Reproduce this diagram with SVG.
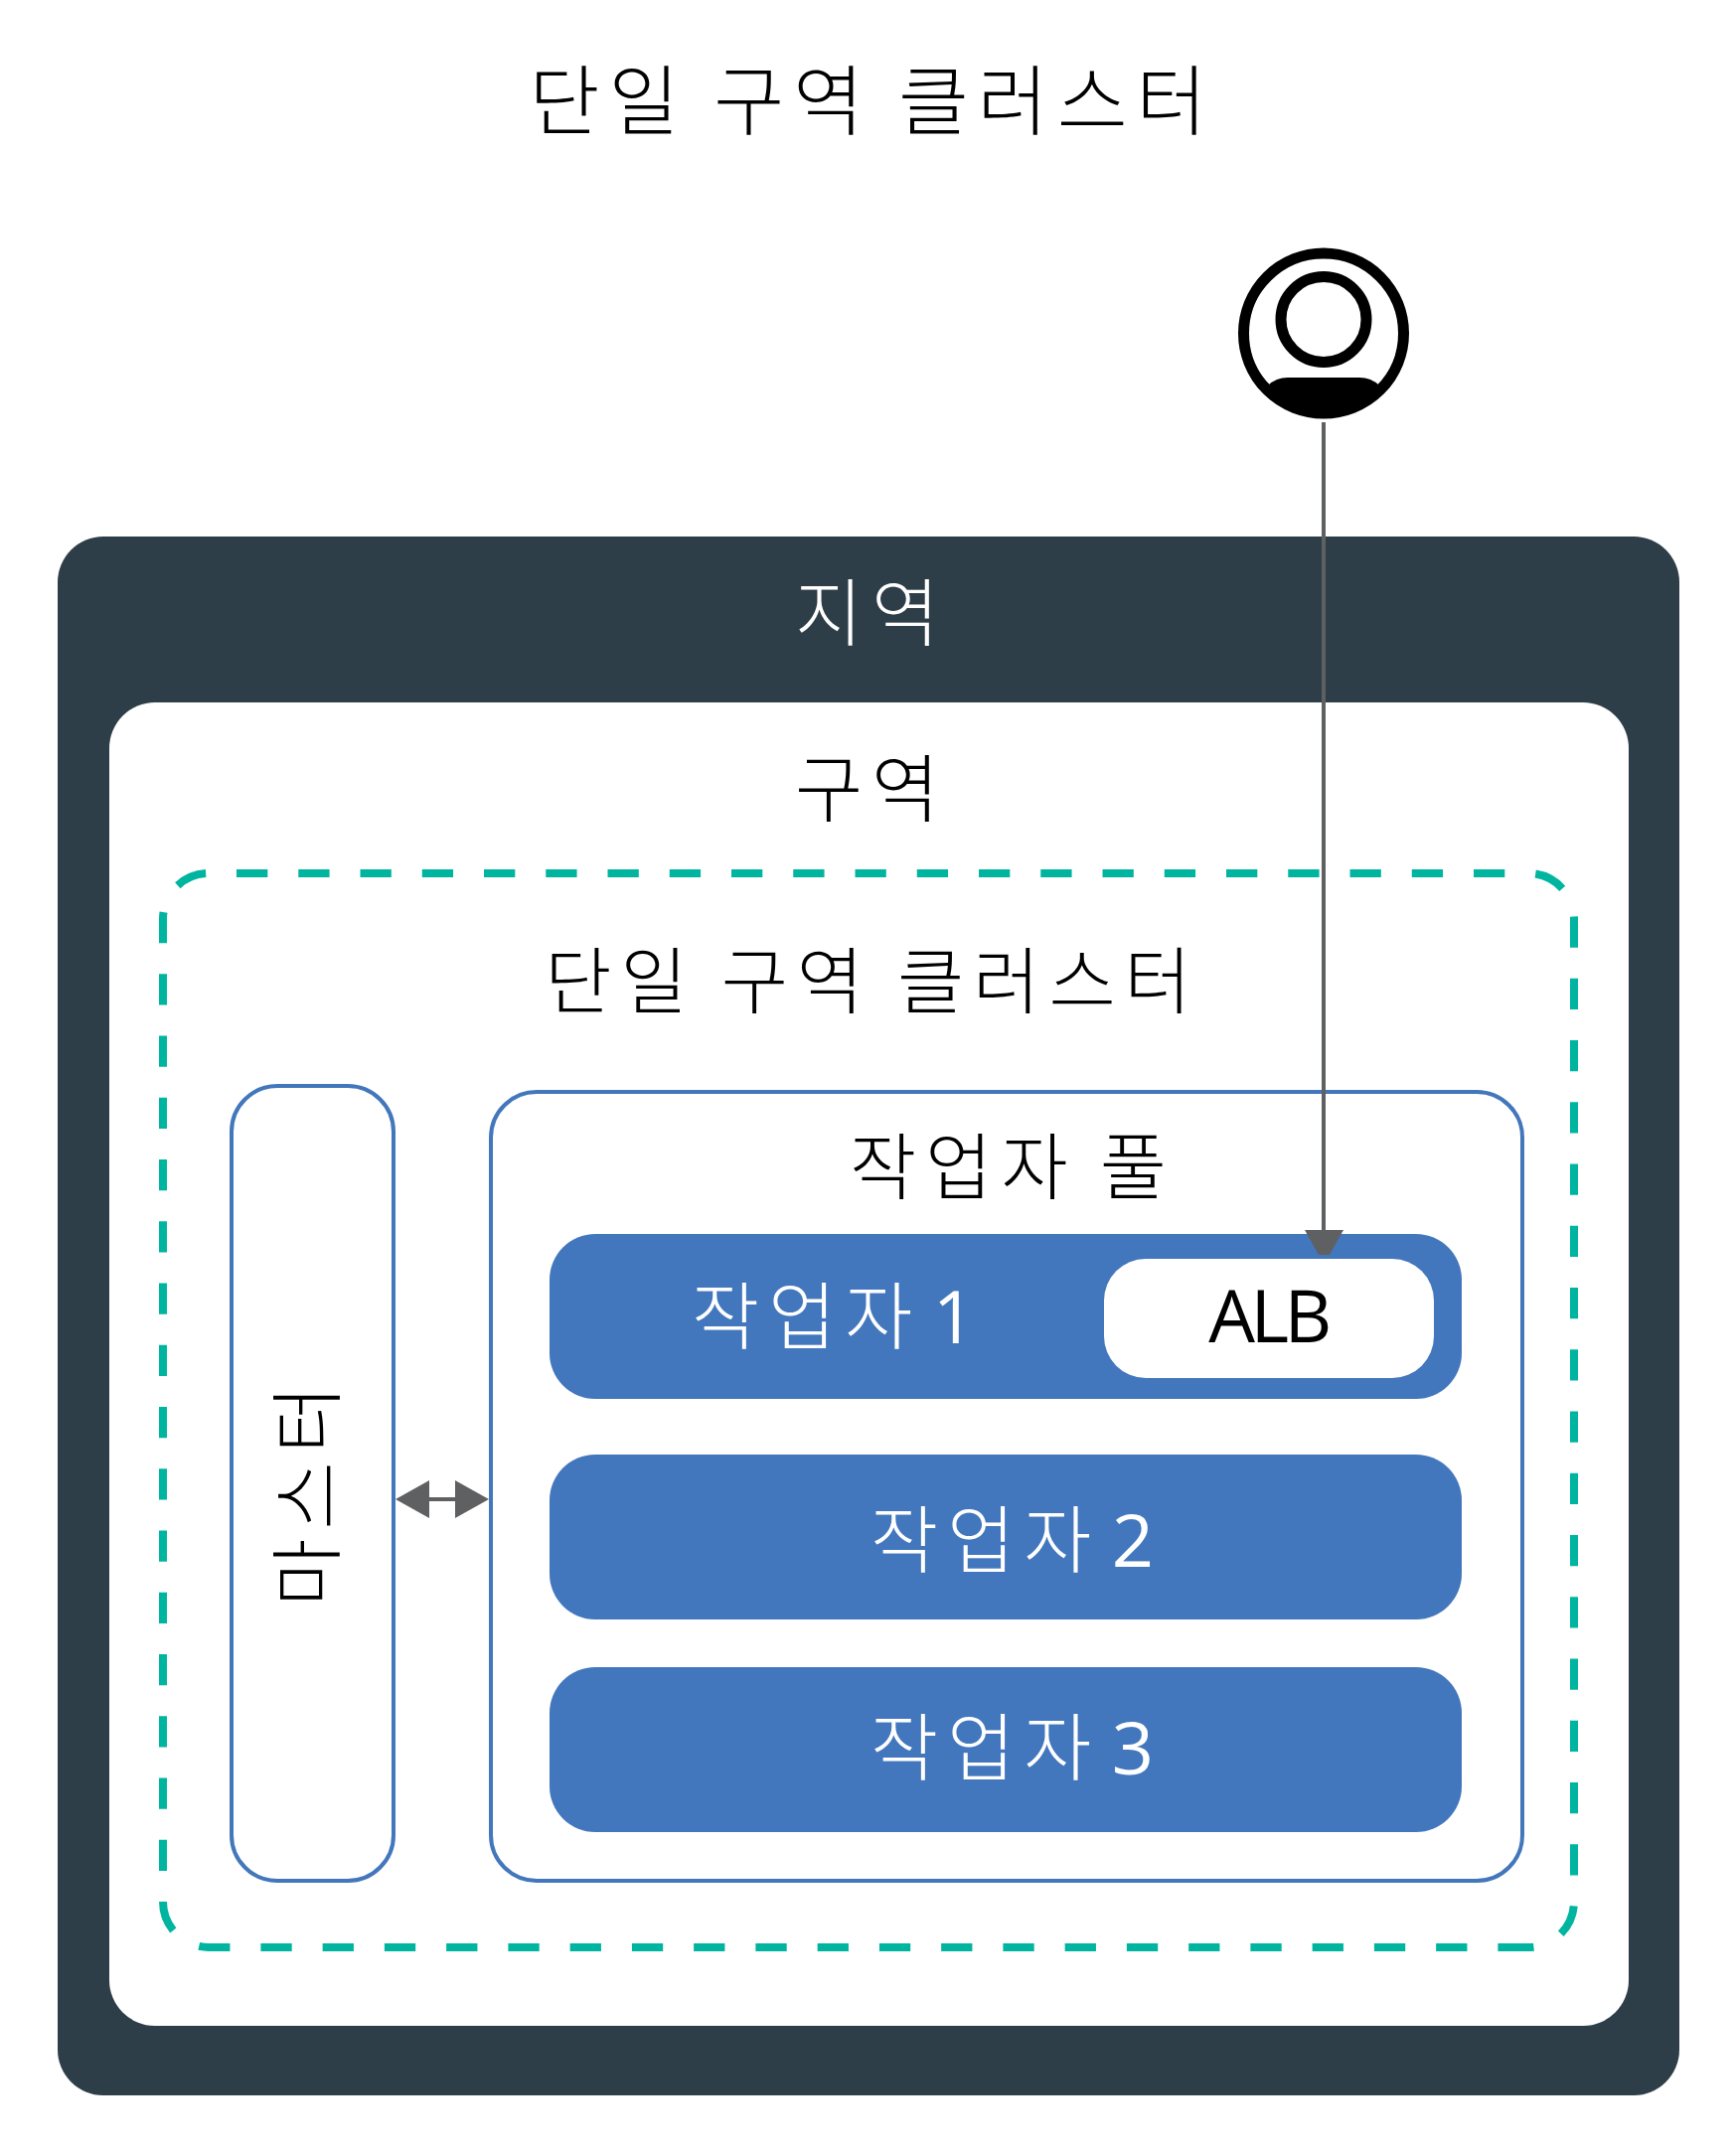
<svg xmlns="http://www.w3.org/2000/svg" width="1747" height="2167" viewBox="0 0 1747 2167">
<style>
text{font-family:"Noto Sans CJK KR","Open Sans",sans-serif;font-weight:300;text-anchor:middle;fill:#000}
.w{fill:#fff}
.lat{font-family:"Open Sans","Noto Sans CJK KR",sans-serif;font-weight:400}
.box{fill:#fff;stroke:#4377bc;stroke-width:4}
.wk{fill:#4377bd}
.con{fill:#5f6062}
.ln{stroke:#5f6062;stroke-width:4;fill:none}
</style>
<rect width="1747" height="2167" fill="#fff"/>
<text x="878" y="130" font-size="77" letter-spacing="9">단일 구역 클러스터</text>
<g id="region"><rect x="58" y="540" width="1632" height="1569" rx="46" fill="#2e3e49"/><text class="w" x="877" y="644" font-size="74" letter-spacing="9">지역</text></g>
<g id="zone"><rect x="110" y="707" width="1529" height="1332" rx="46" fill="#fff"/><text x="877" y="821" font-size="74" letter-spacing="9">구역</text></g>
<g id="cluster"><path d="M1538 1960H210A46 46 0 0 1 164 1914V925A46 46 0 0 1 210 879H1538A46 46 0 0 1 1584 925V1914A46 46 0 0 1 1538 1960Z" fill="none" stroke="#00b5a0" stroke-width="8" stroke-dasharray="31.3 30.95" stroke-dashoffset="0.7"/><text x="878" y="1014" font-size="73" letter-spacing="9">단일 구역 클러스터</text></g>
<g id="master"><rect class="box" x="233" y="1093" width="163" height="800" rx="46"/><text transform="translate(336 1501) rotate(-90)" font-size="74" letter-spacing="9">마스터</text></g>
<g id="pool"><rect class="box" x="494" y="1099" width="1038" height="794" rx="46"/><text x="1019" y="1201" font-size="73" letter-spacing="9" word-spacing="-2">작업자 풀</text></g>
<g id="worker1"><rect class="wk" x="553" y="1242" width="918" height="166" rx="46"/><text class="w" x="843" y="1352" font-size="74" letter-spacing="9" word-spacing="-14">작업자 <tspan class="lat">1</tspan></text></g>
<g id="alb"><rect x="1111" y="1267" width="332" height="120" rx="42" fill="#fff"/><text class="lat" x="1276" y="1351" font-size="74" letter-spacing="-4.5">ALB</text></g>
<g id="worker2"><rect class="wk" x="553" y="1464" width="918" height="166" rx="46"/><text class="w" x="1023" y="1577" font-size="74" letter-spacing="9" word-spacing="-14">작업자 <tspan class="lat">2</tspan></text></g>
<g id="worker3"><rect class="wk" x="553" y="1678" width="918" height="166" rx="46"/><text class="w" x="1023" y="1786" font-size="74" letter-spacing="9" word-spacing="-14">작업자 <tspan class="lat">3</tspan></text></g>
<g id="user"><circle cx="1332" cy="335.5" r="80.5" fill="#fff" stroke="#000" stroke-width="11"/><circle cx="1332" cy="321.5" r="43" fill="none" stroke="#000" stroke-width="11"/><path d="M1276 388Q1284 380 1296 380H1368Q1380 380 1388 388A76 76 0 0 1 1276 388Z" fill="#000"/></g>
<g id="connectors">
<path class="ln" d="M1332 425V1240"/>
<polygon class="con" points="1313,1238 1352,1238 1338,1263 1327,1263"/>
<path class="ln" d="M432 1509H458"/>
<polygon class="con" points="398,1509 432,1490 432,1528"/>
<polygon class="con" points="492,1509 458,1490 458,1528"/>
</g>
</svg>
